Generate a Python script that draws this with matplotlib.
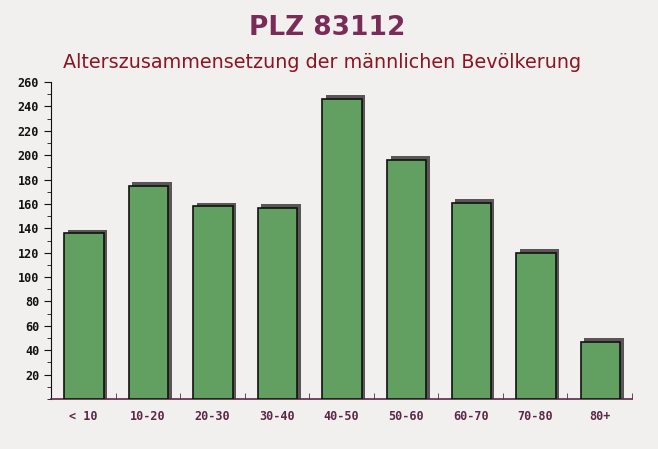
import numpy as np
import matplotlib
matplotlib.use("Agg")
import matplotlib.pyplot as plt
from matplotlib.ticker import MultipleLocator

categories = ["< 10", "10-20", "20-30", "30-40", "40-50", "50-60", "60-70", "70-80", "80+"]
values = [136, 175, 158, 157, 246, 196, 161, 120, 47]
y_ticks = list(range(20, 261, 20))

fig = plt.figure(figsize=(6.58, 4.49), dpi=100)
fig.patch.set_facecolor("#f2efef")
ax = fig.add_axes([51 / 658, 50 / 449, 581 / 658, 317 / 449])
ax.set_facecolor("none")

x = np.arange(len(categories))
w = 0.61
# shadow (3d effect)
ax.bar(x + 0.065, np.array(values) + 3.0, width=w, color="#5a5656", zorder=2)
ax.bar(x + 0.01, values, width=w, color="#62a062", edgecolor="#111111", linewidth=1.2, zorder=3)

ax.set_xlim(-0.5, len(categories) - 0.5)
ax.set_ylim(0, 260)
ax.set_xticks(x)
ax.set_xticklabels(categories, family="DejaVu Sans Mono", fontweight="bold", fontsize=8.5, color="#5a2848")
ax.set_yticks(y_ticks)
ax.set_yticklabels([str(t) for t in y_ticks], family="DejaVu Sans Mono", fontweight="bold", fontsize=8.5, color="#111111")
ax.yaxis.set_minor_locator(MultipleLocator(10))
ax.xaxis.set_minor_locator(MultipleLocator(0.5))
ax.tick_params(axis="y", which="major", length=5, direction="out", color="#111111")
ax.tick_params(axis="y", which="minor", length=3, direction="out", color="#111111")
ax.tick_params(axis="x", which="major", length=0, pad=8)
ax.tick_params(axis="x", which="minor", length=4, direction="in", color="#5a2848")

for s in ["top", "right"]:
    ax.spines[s].set_visible(False)
ax.spines["left"].set_color("#111111")
ax.spines["bottom"].set_color("#5a2848")
ax.spines["bottom"].set_linewidth(1.2)

fig.text(0.497, 1 - 28 / 449, "PLZ 83112", ha="center", va="center", fontsize=19,
         fontweight="bold", color="#7a2c58", family="DejaVu Sans")
fig.text(0.490, 1 - 62 / 449, "Alterszusammensetzung der männlichen Bevölkerung", ha="center",
         va="center", fontsize=13.8, color="#8b1520", family="DejaVu Sans")

fig.savefig("out.png", dpi=100, facecolor=fig.get_facecolor())
